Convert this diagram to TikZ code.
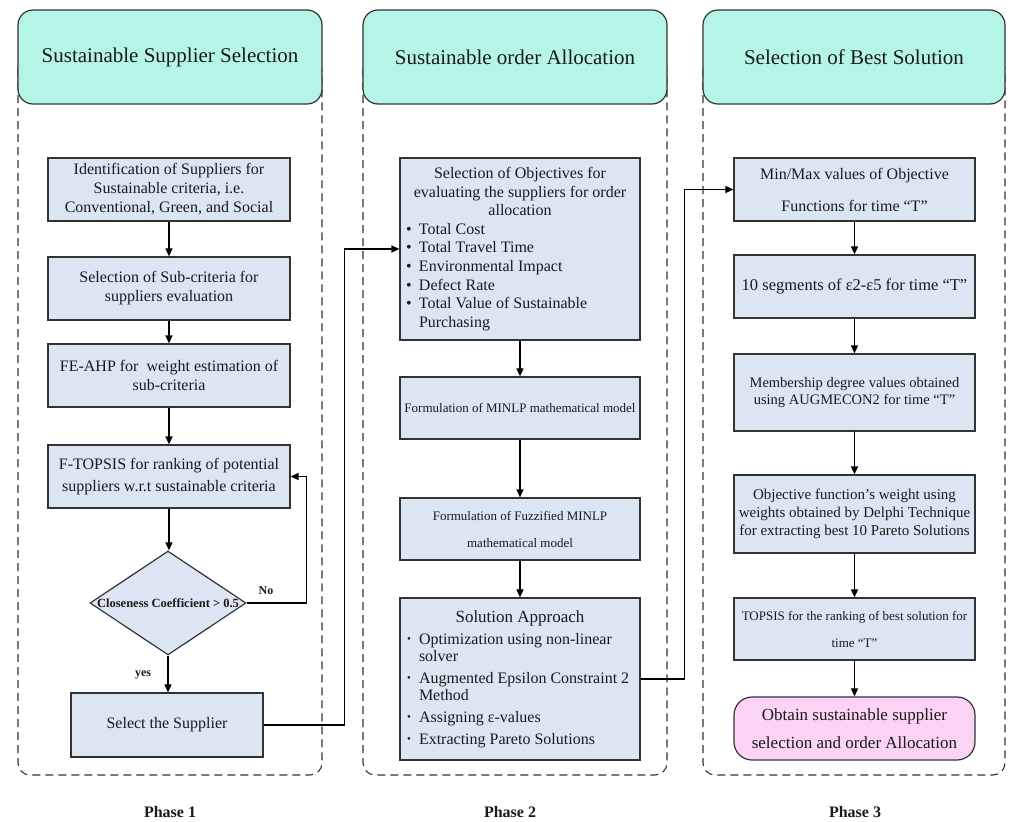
\documentclass[tikz,border=0pt]{standalone}
\usepackage{fontspec}
\setmainfont{Liberation Serif}
\usetikzlibrary{arrows.meta,shapes.geometric}
\definecolor{mint}{HTML}{B5F5E8}
\definecolor{boxfill}{HTML}{DCE6F2}
\definecolor{pinkfill}{HTML}{FBD3F5}
\definecolor{edge}{HTML}{333333}
\definecolor{ink}{HTML}{1A1A1A}
\newcommand{\fs}[2]{\fontsize{#1}{#2}\selectfont}
\newcommand{\bitem}[1]{\par\noindent\hangindent=13pt\hangafter=1\makebox[13pt][l]{\textbullet}#1}
\newcommand{\sitem}[1]{\par\noindent\hangindent=13pt\hangafter=1\makebox[13pt][l]{\hspace{1pt}\raisebox{1.6pt}{\fs{11}{11}\textbullet}}#1}
\tikzset{
  phase/.style={draw=edge, line width=1.1pt, dash pattern=on 8pt off 5pt, rounded corners=12pt},
  titlebox/.style={draw=edge, fill=mint, line width=1.2pt, rounded corners=15pt, minimum height=94pt, inner sep=0pt, text=ink, font=\fs{21}{25}},
  stepbox/.style={draw=edge, fill=boxfill, line width=1.2pt, inner sep=0pt, text=ink, align=center, font=\fs{16}{19}},
  arr/.style={line width=1.5pt, draw=black, -{Triangle[length=8pt,width=7pt]}},
  lbl/.style={font=\bfseries\fs{12}{14}, text=ink},
  phaselbl/.style={font=\bfseries\fs{16}{18}, text=ink}
}
\begin{document}
\begin{tikzpicture}[x=1pt,y=-1pt]
\useasboundingbox (0,0) rectangle (1010,822);

% dashed phase frames
\draw[phase] (18,57) rectangle (322,775);
\draw[phase] (363,57) rectangle (667,775);
\draw[phase] (703,57) rectangle (1005,775);

% phase titles
\node[titlebox, minimum width=304pt] (t1) at (170,57) {Sustainable Supplier Selection};
\node[titlebox, minimum width=304pt] (t2) at (515,57) {Sustainable order Allocation};
\node[titlebox, minimum width=302pt] (t3) at (854,57) {Selection of Best Solution};

% Phase 1
\node[stepbox, minimum width=242pt, minimum height=63pt] (a1) at (169,189.5)
  {Identification of Suppliers for\\Sustainable criteria, i.e.\\Conventional, Green, and Social};
\node[stepbox, minimum width=242pt, minimum height=63pt] (a2) at (169,288.5)
  {Selection of Sub-criteria for\\suppliers evaluation};
\node[stepbox, minimum width=242pt, minimum height=63pt] (a3) at (169,375.5)
  {FE-AHP for~ weight estimation of\\sub-criteria};
\node[stepbox, minimum width=242pt, minimum height=63pt, font=\fs{16}{22}] (a4) at (169,476.5)
  {F-TOPSIS for ranking of potential\\suppliers w.r.t sustainable criteria};
\node[diamond, draw=edge, fill=boxfill, line width=1.2pt, inner sep=0pt,
      minimum width=156pt, minimum height=104pt] (d) at (168,603) {};
\node[font=\bfseries\fs{12.5}{14}, text=ink, inner sep=0pt] (dt) at (d.center) {Closeness Coefficient > 0.5};
\node[stepbox, minimum width=192pt, minimum height=64pt] (a5) at (167,725) {Select the Supplier};
\node[lbl] (no) at (266,591) {No};
\node[lbl] (yes) at (143,675) {yes};

\draw[arr] (a1.south) -- (a2.north);
\draw[arr] (a2.south) -- (a3.north);
\draw[arr] (a3.south) -- (a4.north);
\draw[arr] (a4.south) -- (a4.south |- d.north);
\draw[arr] (d.south) -- (d.south |- a5.north);
\draw[arr] (d.east) -- ++(60,0) |- (a4.east);

% Phase 2
\node[stepbox, minimum width=240pt, minimum height=182pt] (b1) at (520,249)
  {\parbox{228pt}{\fs{16}{18.6}\centering Selection of Objectives for\\evaluating the suppliers for order\\allocation\par
   \raggedright
   \bitem{Total Cost}
   \bitem{Total Travel Time}
   \bitem{Environmental Impact}
   \bitem{Defect Rate}
   \bitem{Total Value of Sustainable Purchasing}}};
\node[stepbox, minimum width=240pt, minimum height=62pt, font=\fs{13}{16}] (b2) at (520,408)
  {Formulation of MINLP mathematical model};
\node[stepbox, minimum width=240pt, minimum height=62pt, font=\fs{13}{27}] (b3) at (520,529)
  {Formulation of Fuzzified MINLP\\mathematical model};
\node[stepbox, minimum width=240pt, minimum height=162pt] (b4) at (520,679)
  {\parbox{228pt}{\fs{16}{17}\centering {\fs{17}{20}Solution Approach}\par\vspace{5pt}
   \raggedright
   \sitem{Optimization using non-linear solver}\par\vspace{5pt}
   \sitem{Augmented Epsilon Constraint 2 Method}\par\vspace{5pt}
   \sitem{Assigning ε-values}\par\vspace{5pt}
   \sitem{Extracting Pareto Solutions}}};

\draw[arr] (a5.east) -- ++(81,0) |- (b1.west);
\draw[arr] (b1.south) -- (b2.north);
\draw[arr] (b2.south) -- (b3.north);
\draw[arr] (b3.south) -- (b4.north);

% Phase 3
\node[stepbox, minimum width=241pt, minimum height=63pt, font=\fs{16}{32}] (c1) at (854.5,189.5)
  {Min/Max values of Objective\\Functions for time “T”};
\node[stepbox, minimum width=241pt, minimum height=63pt, font=\fs{16.5}{19}] (c2) at (854.5,286.5)
  {10 segments of ε2-ε5 for time “T”};
\node[stepbox, minimum width=241pt, minimum height=77pt, font=\fs{14.5}{17.5}] (c3) at (854.5,392.5)
  {Membership degree values obtained\\using AUGMECON2 for time “T”};
\node[stepbox, minimum width=241pt, minimum height=78pt, font=\fs{15}{18}] (c4) at (854.5,514)
  {Objective function’s weight using\\weights obtained by Delphi Technique\\for extracting best 10 Pareto Solutions};
\node[stepbox, minimum width=241pt, minimum height=62pt, font=\fs{13}{27}] (c5) at (854.5,629)
  {TOPSIS for the ranking of best solution for\\time “T”};
\node[stepbox, fill=pinkfill, rounded corners=18pt, minimum width=241pt, minimum height=63pt, font=\fs{17}{28}] (c6) at (854.5,728.5)
  {Obtain sustainable supplier\\selection and order Allocation};

\draw[arr] (b4.east) -- ++(44,0) |- (c1.west);
\draw[arr] (c1.south) -- (c2.north);
\draw[arr] (c2.south) -- (c3.north);
\draw[arr] (c3.south) -- (c4.north);
\draw[arr] (c4.south) -- (c5.north);
\draw[arr] (c5.south) -- (c6.north);

% phase captions
\node[phaselbl] (p1) at (170,812) {Phase 1};
\node[phaselbl] (p2) at (510,812) {Phase 2};
\node[phaselbl] (p3) at (855,812) {Phase 3};
\end{tikzpicture}
\end{document}
